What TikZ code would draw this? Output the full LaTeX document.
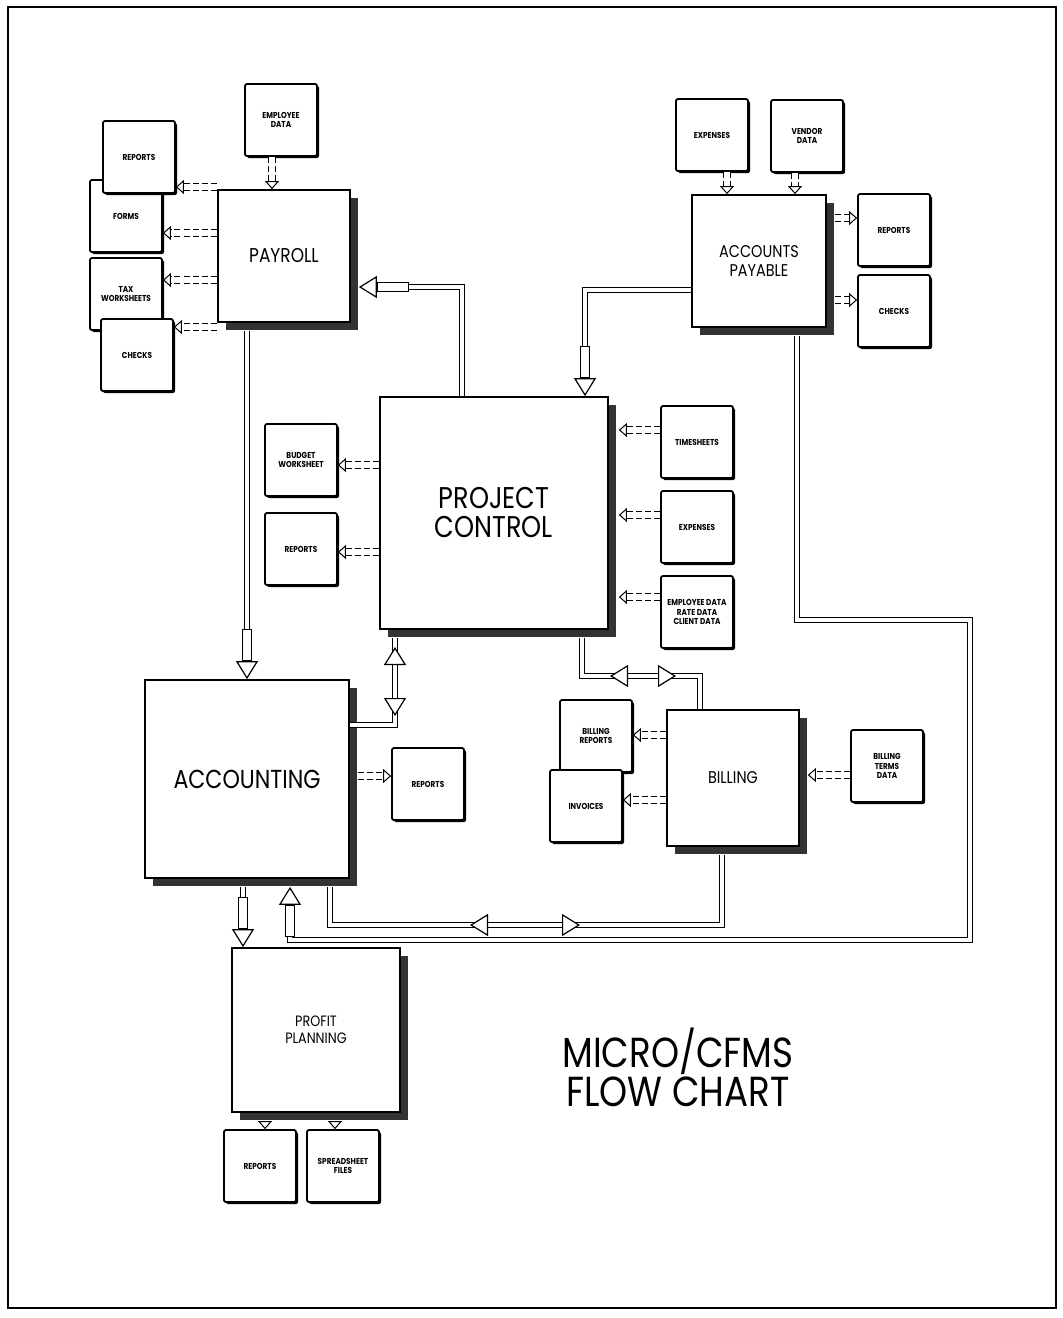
\documentclass[tikz,border=0pt]{standalone}
\usepackage{fontspec}
\setmainfont{Poppins}[FakeStretch=0.85]
\usetikzlibrary{arrows.meta,shadows}

\begin{document}
\begin{tikzpicture}[x=0.5pt, y=-0.5pt,
  doc/.style={draw, line width=0.9pt, rounded corners=1pt, fill=white,
    minimum width=36pt, minimum height=36pt, inner sep=1pt, align=center,
    font=\fontsize{4.3}{4.9}\selectfont\bfseries,
    drop shadow={shadow xshift=1pt, shadow yshift=-1pt, fill=black, opacity=1}},
  unit/.style={draw, line width=0.9pt, fill=white, align=center,
    drop shadow={shadow xshift=4pt, shadow yshift=-4pt, fill=black!80, opacity=1}},
  pipe/.style={double, line width=0.6pt, double distance=2pt},
  tap/.style={double, line width=0.5pt, double distance=2.6pt,
    dash pattern=on 3pt off 1.6pt, -{Triangle[fill=white, length=4pt, width=7pt]}},
  big/.style={-{Rectangle[fill=white, length=16pt, width=5pt] Triangle[fill=white, length=9pt, width=11pt]}},
  both/.style={{Triangle[fill=white, length=9pt, width=11pt]}-{Triangle[fill=white, length=9pt, width=11pt]}}
]
\useasboundingbox (0,0) rectangle (1062,1318);
\draw[line width=1pt] (8,7) rectangle (1056,1308);

% payroll
\node[unit, minimum width=66pt, minimum height=66pt, font=\fontsize{10}{11}\selectfont] (pay) at (284,256) {PAYROLL};
\node[doc] (emp) at (281,120) {EMPLOYEE\\DATA};
\node[doc] (forms) at (126,216) {FORMS};
\node[doc] (prep) at (139,157) {REPORTS};
\node[doc] (tax) at (126,294) {TAX\\WORKSHEETS};
\node[doc] (pchk) at (137,355) {CHECKS};

% accounts payable
\node[unit, minimum width=67pt, minimum height=66pt, font=\fontsize{8.5}{9.5}\selectfont] (ap) at (759,261) {ACCOUNTS\\PAYABLE};
\node[doc] (apexp) at (712,135) {EXPENSES};
\node[doc] (vend) at (807,136) {VENDOR\\DATA};
\node[doc] (aprep) at (894,230) {REPORTS};
\node[doc] (apchk) at (894,311) {CHECKS};

% project control
\node[unit, minimum width=114pt, minimum height=116pt, font=\fontsize{15}{14.5}\selectfont] (pc) at (494,513) {PROJECT\\CONTROL};
\node[doc] (budget) at (301,460) {BUDGET\\WORKSHEET};
\node[doc] (pcrep) at (301,549) {REPORTS};
\node[doc] (time) at (697,442) {TIMESHEETS};
\node[doc] (pcexp) at (697,527) {EXPENSES};
\node[doc] (data3) at (697,612) {EMPLOYEE DATA\\RATE DATA\\CLIENT DATA};

% accounting
\node[unit, minimum width=102pt, minimum height=99pt, font=\fontsize{13}{14}\selectfont] (acc) at (247,779) {ACCOUNTING};
\node[doc] (accrep) at (428,784) {REPORTS};

% billing
\node[unit, minimum width=66pt, minimum height=68pt, font=\fontsize{8.5}{9.5}\selectfont] (bill) at (733,778) {BILLING};
\node[doc] (brep) at (596,736) {BILLING\\REPORTS};
\node[doc] (inv) at (586,806) {INVOICES};
\node[doc] (terms) at (887,766) {BILLING\\TERMS\\DATA};

% profit planning
\node[unit, minimum width=84pt, minimum height=82pt, font=\fontsize{7.5}{8.5}\selectfont] (pp) at (316,1030) {PROFIT\\PLANNING};
\node[doc] (pprep) at (260,1166) {REPORTS};
\node[doc] (ss) at (343,1166) {SPREADSHEET\\FILES};

\node[align=center, font=\fontsize{21}{18}\selectfont] (title) at (678,1067) {MICRO/CFMS\\FLOW CHART};

% small data arrows
\draw[tap] (pay.west |- 0,187) -- (prep.east |- 0,187);
\draw[tap] (pay.west |- 0,233) -- (forms.east |- 0,233);
\draw[tap] (pay.west |- 0,280) -- (tax.east |- 0,280);
\draw[tap] (pay.west |- 0,327) -- (pchk.east |- 0,327);
\draw[tap] (emp.south -| 272,0) -- (pay.north -| 272,0);
\draw[tap] (apexp.south -| 727,0) -- (ap.north -| 727,0);
\draw[tap] (vend.south -| 795,0) -- (ap.north -| 795,0);
\draw[tap, shorten <=4pt] (ap.east |- 0,218) -- (aprep.west |- 0,218);
\draw[tap, shorten <=4pt] (ap.east |- 0,300) -- (apchk.west |- 0,300);
\draw[tap] (pc.west |- 0,465) -- (budget.east |- 0,465);
\draw[tap] (pc.west |- 0,552) -- (pcrep.east |- 0,552);
\draw[tap, shorten >=5pt] (time.west |- 0,430) -- (pc.east |- 0,430);
\draw[tap, shorten >=5pt] (pcexp.west |- 0,515) -- (pc.east |- 0,515);
\draw[tap, shorten >=5pt] (data3.west |- 0,597) -- (pc.east |- 0,597);
\draw[tap, shorten <=4pt] (acc.east |- 0,776) -- (accrep.west |- 0,776);
\draw[tap] (bill.west |- 0,735) -- (brep.east |- 0,735);
\draw[tap] (bill.west |- 0,800) -- (inv.east |- 0,800);
\draw[tap, shorten >=4pt] (terms.west |- 0,775) -- (bill.east |- 0,775);
\draw[tap, shorten <=4pt] (pp.south -| 265,0) -- (pprep.north -| 265,0);
\draw[tap, shorten <=4pt] (pp.south -| 335,0) -- (ss.north -| 335,0);

% main flows
\draw[pipe, big, shorten >=4pt] (pc.north -| 462,0) |- (pay.east |- 0,287);
\draw[pipe, big] (ap.west |- 0,290) -| (pc.north -| 585,0);
\draw[pipe, big, shorten <=4pt] (pay.south -| 247,0) -- (acc.north -| 247,0);
\draw[pipe, big, shorten <=4pt] (acc.south -| 243,0) -- (pp.north -| 243,0);
\draw[pipe, shorten <=4pt] (pc.south -| 395,0) |- (acc.east |- 0,725);
\draw[pipe, both] (395,647) -- (395,716);
\draw[pipe, shorten <=4pt] (pc.south -| 582,0) |- (700,676) -- (bill.north -| 700,0);
\draw[pipe, both] (610,676) -- (676,676);
\draw[pipe, shorten <=4pt, shorten >=4pt] (bill.south -| 722,0) |- (330,925) -- (acc.south -| 330,0);
\draw[pipe, both] (470,925) -- (580,925);
\draw[pipe, big, shorten <=4pt, shorten >=4pt] (ap.south -| 797,0) |- (970,620) |- (290,940) -- (acc.south -| 290,0);
\end{tikzpicture}
\end{document}
